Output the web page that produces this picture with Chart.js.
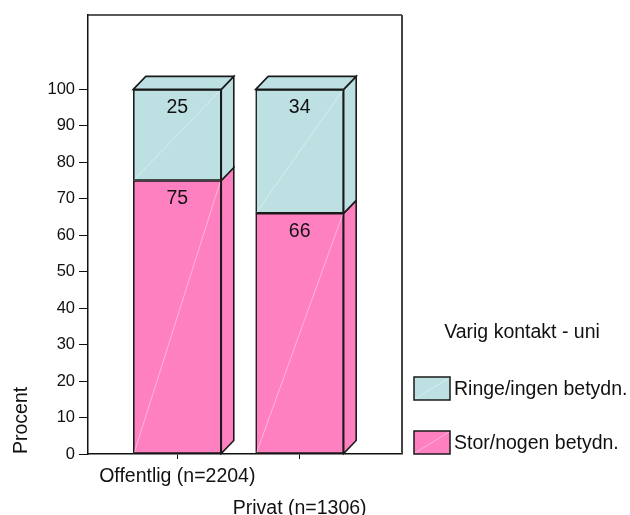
<!DOCTYPE html>
<html>
<head>
<meta charset="utf-8">
<script src="https://cdn.jsdelivr.net/npm/chart.js@4/dist/chart.umd.min.js"></script>
<style>
  html, body { margin: 0; padding: 0; background: #ffffff; }
  canvas { display: block; }
</style>
</head>
<body>
<canvas id="chart" width="630" height="515"></canvas>
<script>
// Survey result: importance of lasting contact with the university, by sector
const categories = ['Offentlig (n=2204)', 'Privat (n=1306)'];
const storValues = [75, 66];    // Stor/nogen betydn.
const ringeValues = [25, 34];   // Ringe/ingen betydn.
const seriesNames = ['Stor/nogen betydn.', 'Ringe/ingen betydn.'];
const seriesColors = ['#FF80C0', '#BDE0E3'];
const yTickValues = [0, 10, 20, 30, 40, 50, 60, 70, 80, 90, 100];
const legendTitle = 'Varig kontakt - uni';
const yTitle = 'Procent';

const FONT = 'Liberation Sans, Arial, sans-serif';
const OUTLINE = '#1a1a1a';
const DEPTH_X = 12.5, DEPTH_Y = 13;

// Side and top faces give each stacked bar its box look
const boxFaces = {
  id: 'boxFaces',
  afterDatasetsDraw(chart) {
    const ctx = chart.ctx;
    const n = chart.data.datasets.length;
    ctx.save();
    ctx.lineJoin = 'miter';
    chart.data.datasets.forEach((ds, di) => {
      const meta = chart.getDatasetMeta(di);
      meta.data.forEach((el) => {
        const left = el.x - el.width / 2, right = el.x + el.width / 2;
        const top = el.y, bottom = el.base;
        // faint sheen across the front face
        ctx.strokeStyle = 'rgba(255,255,255,0.4)';
        ctx.lineWidth = 1;
        ctx.beginPath();
        ctx.moveTo(left + 1, bottom - 1);
        ctx.lineTo(right - 1, top + 1);
        ctx.stroke();
        // right side face
        ctx.fillStyle = ds.backgroundColor;
        ctx.strokeStyle = OUTLINE;
        ctx.lineWidth = 1.6;
        ctx.beginPath();
        ctx.moveTo(right, top);
        ctx.lineTo(right + DEPTH_X, top - DEPTH_Y);
        ctx.lineTo(right + DEPTH_X, bottom - DEPTH_Y);
        ctx.lineTo(right, bottom);
        ctx.closePath();
        ctx.fill();
        ctx.stroke();
        // top face on the uppermost segment
        if (di === n - 1) {
          ctx.beginPath();
          ctx.moveTo(left, top);
          ctx.lineTo(left + DEPTH_X, top - DEPTH_Y);
          ctx.lineTo(right + DEPTH_X, top - DEPTH_Y);
          ctx.lineTo(right, top);
          ctx.closePath();
          ctx.fill();
          ctx.stroke();
        }
      });
    });
    ctx.restore();
  }
};

// Value labels near the top of each segment
const valueLabels = {
  id: 'valueLabels',
  afterDatasetsDraw(chart) {
    const ctx = chart.ctx;
    ctx.save();
    ctx.font = '19.5px ' + FONT;
    ctx.fillStyle = '#111';
    ctx.textAlign = 'center';
    ctx.textBaseline = 'middle';
    chart.data.datasets.forEach((ds, di) => {
      const meta = chart.getDatasetMeta(di);
      meta.data.forEach((el, i) => {
        ctx.fillText(String(ds.data[i].y), el.x, el.y + 18.5);
      });
    });
    ctx.restore();
  }
};

// Frame around the plot region
const plotFrame = {
  id: 'plotFrame',
  beforeDatasetsDraw(chart) {
    const { left, top, right, bottom } = chart.chartArea;
    const ctx = chart.ctx;
    ctx.save();
    ctx.strokeStyle = '#222';
    ctx.lineWidth = 1.5;
    ctx.beginPath();
    ctx.moveTo(left, top);
    ctx.lineTo(right, top);
    ctx.stroke();
    ctx.strokeStyle = '#444';
    ctx.lineWidth = 2;
    ctx.beginPath();
    ctx.moveTo(right, top);
    ctx.lineTo(right, bottom);
    ctx.stroke();
    ctx.restore();
  }
};

// Legend at the right, series listed top to bottom as stacked
const sideLegend = {
  id: 'sideLegend',
  afterDraw(chart) {
    const ctx = chart.ctx;
    const area = chart.chartArea;
    const x0 = area.right + 12;
    ctx.save();
    ctx.font = '19.5px ' + FONT;
    ctx.fillStyle = '#111';
    ctx.textBaseline = 'middle';
    ctx.textAlign = 'center';
    ctx.fillText(legendTitle, x0 + 108, 333);
    const items = chart.data.datasets.slice().reverse();
    items.forEach((ds, k) => {
      const y = 377 + k * 54;
      ctx.fillStyle = ds.backgroundColor;
      ctx.fillRect(x0, y, 36, 23);
      ctx.strokeStyle = 'rgba(255,255,255,0.4)';
      ctx.lineWidth = 1;
      ctx.beginPath();
      ctx.moveTo(x0 + 1, y + 22);
      ctx.lineTo(x0 + 35, y + 1);
      ctx.stroke();
      ctx.strokeStyle = OUTLINE;
      ctx.lineWidth = 1.5;
      ctx.strokeRect(x0, y, 36, 23);
      ctx.fillStyle = '#111';
      ctx.textAlign = 'left';
      ctx.fillText(ds.label, x0 + 40, y + 12.5);
    });
    ctx.restore();
  }
};

const storData = categories.map((c, i) => ({ x: i, y: storValues[i] }));
const ringeData = categories.map((c, i) => ({ x: i, y: ringeValues[i] }));

new Chart(document.getElementById('chart'), {
  type: 'bar',
  data: {
    datasets: [
      { label: seriesNames[0], data: storData, backgroundColor: seriesColors[0],
        borderColor: OUTLINE, borderWidth: 1.6, borderSkipped: false, barThickness: 88 },
      { label: seriesNames[1], data: ringeData, backgroundColor: seriesColors[1],
        borderColor: OUTLINE, borderWidth: 1.6, borderSkipped: false, barThickness: 88 }
    ]
  },
  options: {
    responsive: false,
    animation: false,
    devicePixelRatio: 1,
    layout: { padding: { left: 0, top: 15, right: 228, bottom: 0 } },
    plugins: { legend: { display: false }, tooltip: { enabled: false } },
    scales: {
      x: {
        type: 'linear',
        stacked: true,
        offset: false,
        min: -0.7295,
        max: 1.836,
        afterBuildTicks(scale) { scale.ticks = categories.map((c, i) => ({ value: i })); },
        afterFit(scale) { scale.height = 61; },
        ticks: {
          color: '#111',
          font: { family: FONT, size: 19.5, lineHeight: 1.62 },
          padding: 2,
          maxRotation: 0,
          autoSkip: false,
          callback: (v) => (v === 0 ? [categories[0]] : ['', categories[1]])
        },
        grid: { offset: false, drawOnChartArea: false, drawTicks: true, tickLength: 5, color: '#111' },
        border: { display: true, color: '#111', width: 1.5 }
      },
      y: {
        stacked: true,
        min: 0,
        max: 120.4,
        afterBuildTicks(scale) { scale.ticks = yTickValues.map((v) => ({ value: v })); },
        afterFit(scale) { scale.width = 88; },
        ticks: {
          color: '#111',
          font: { family: FONT, size: 16.5 },
          padding: 4
        },
        grid: { drawOnChartArea: false, drawTicks: true, tickLength: 9, color: '#111' },
        border: { display: true, color: '#111', width: 1.5 },
        title: {
          display: true,
          text: yTitle,
          align: 'start',
          color: '#111',
          font: { family: FONT, size: 19.5 },
          padding: { top: 10, bottom: 0 }
        }
      }
    }
  },
  plugins: [plotFrame, boxFaces, valueLabels, sideLegend]
});
</script>
</body>
</html>
